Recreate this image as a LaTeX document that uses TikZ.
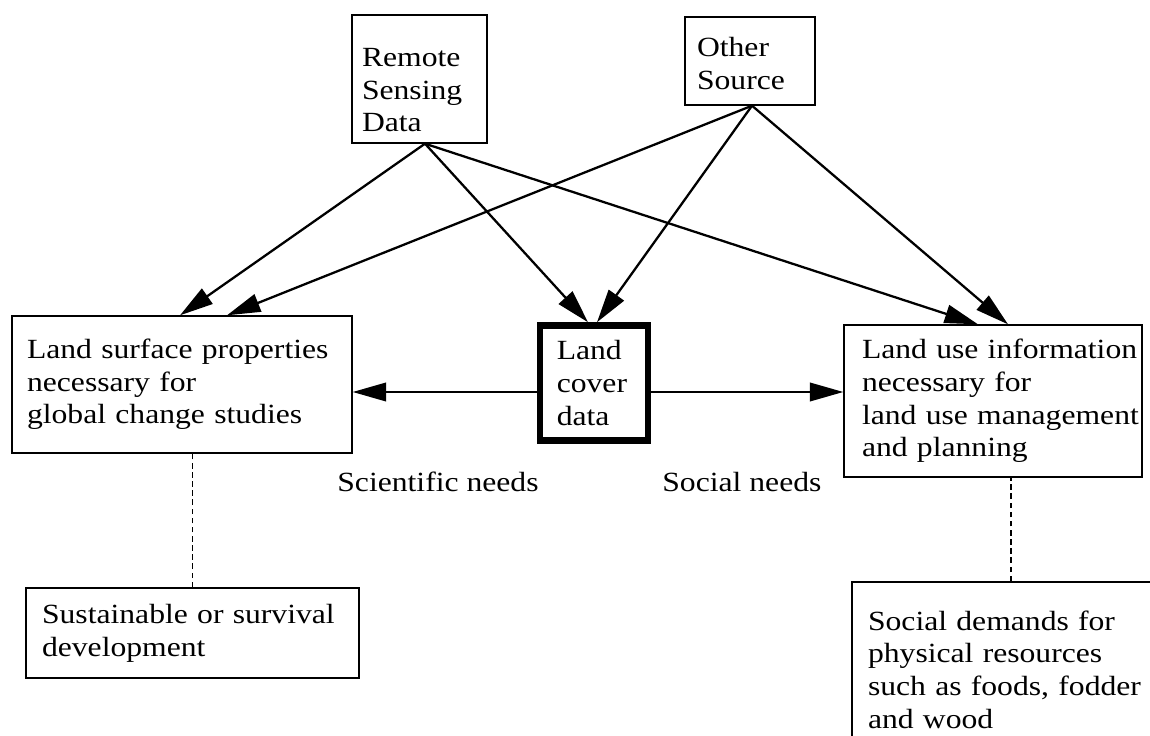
\documentclass[tikz,border=0pt]{standalone}
\usepackage{fontspec}
\setmainfont{Liberation Serif}[FakeStretch=1.14]
\usetikzlibrary{arrows.meta,calc}
% extra height on the first line of a box, to push its text down
\newcommand{\firstlift}[1]{\rule{0pt}{#1}}

\begin{document}
\begin{tikzpicture}[x=0.02cm,y=-0.02cm,
  every node/.style={font=\fontsize{15.8pt}{18.6pt}\selectfont},
  box/.style={draw, line width=0.8pt, rectangle, align=left, inner ysep=0pt},
  arr/.style={line width=1.3pt, -{Triangle[length=19pt,width=10.5pt]}},
  dotline/.style={line width=1.1pt, dash pattern=on 3.2pt off 2pt},
]
\useasboundingbox[fill=white] (0,0) rectangle (1150,736);
\clip (0,0) rectangle (1150,736);

% data sources
\node[box, minimum width=2.7cm, minimum height=2.56cm, inner xsep=0.2cm,
      text width=2.3cm] (rsd) at (419.5,79)
      {\firstlift{23pt}Remote\\Sensing\\Data};
\node[box, minimum width=2.6cm, minimum height=1.76cm, inner xsep=0.24cm,
      text width=2.12cm] (ots) at (750,61)
      {\firstlift{14pt}Other\\Source};

% central land cover data
\node[box, line width=3.7pt, minimum width=2.17cm, minimum height=2.3cm,
      inner xsep=0.34cm, text width=1.49cm] (lcd) at (594,383)
      {Land\\cover\\data};

% uses of the data
\node[box, minimum width=6.8cm, minimum height=2.74cm, inner xsep=0.3cm,
      text width=6.2cm] (lsp) at (182,384.5)
      {\mbox{Land surface properties}\\\mbox{necessary for}\\\mbox{global change studies}};
\node[box, minimum width=5.96cm, minimum height=3.04cm, inner xsep=0.36cm,
      text width=5.24cm] (luse) at (993,401)
      {\mbox{Land use information}\\\mbox{necessary for}\\\mbox{land use management}\\\mbox{and planning}};

% ultimate goals
\node[box, minimum width=6.66cm, minimum height=1.8cm, inner xsep=0.32cm,
      text width=6.02cm] (sus) at (192.5,633)
      {\mbox{Sustainable or survival}\\\mbox{development}};
\node[box, minimum width=6.36cm, minimum height=3.5cm, inner xsep=0.32cm,
      text width=5.72cm] (dem) at (1011,669.5)
      {\mbox{Social demands for}\\\mbox{physical resources}\\\mbox{such as foods, fodder}\\\mbox{and wood}};

% labels of the two needs
\node[anchor=base west, inner sep=0pt] (sci) at (337,492) {Scientific needs};
\node[anchor=base west, inner sep=0pt] (soc) at (662,492) {Social needs};

% arrows from the sources
\draw[arr] ([xshift=0.11cm]rsd.south) -- ([xshift=-0.04cm]lsp.north);
\draw[arr] ([xshift=0.11cm]rsd.south) -- ([xshift=-0.12cm]lcd.north);
\draw[arr] ([xshift=0.11cm]rsd.south) -- ([xshift=-0.3cm]luse.north);
\draw[arr] ([xshift=0.04cm]ots.south) -- ([xshift=0.9cm]lsp.north);
\draw[arr] ([xshift=0.04cm]ots.south) -- ([xshift=0.06cm]lcd.north);
\draw[arr] ([xshift=0.04cm]ots.south) -- ([xshift=0.3cm]luse.north);

% arrows out of the land cover data
\draw[arr] ([yshift=-0.18cm]lcd.west) coordinate (lw) -- (lw -| lsp.east);
\draw[arr] ([yshift=-0.18cm]lcd.east) coordinate (le) -- (le -| luse.west);

% dashed links to the goals
\draw[dotline] (sus.north) -- (sus.north |- lsp.south);
\draw[dotline] (dem.north) -- (dem.north |- luse.south);
\end{tikzpicture}
\end{document}
